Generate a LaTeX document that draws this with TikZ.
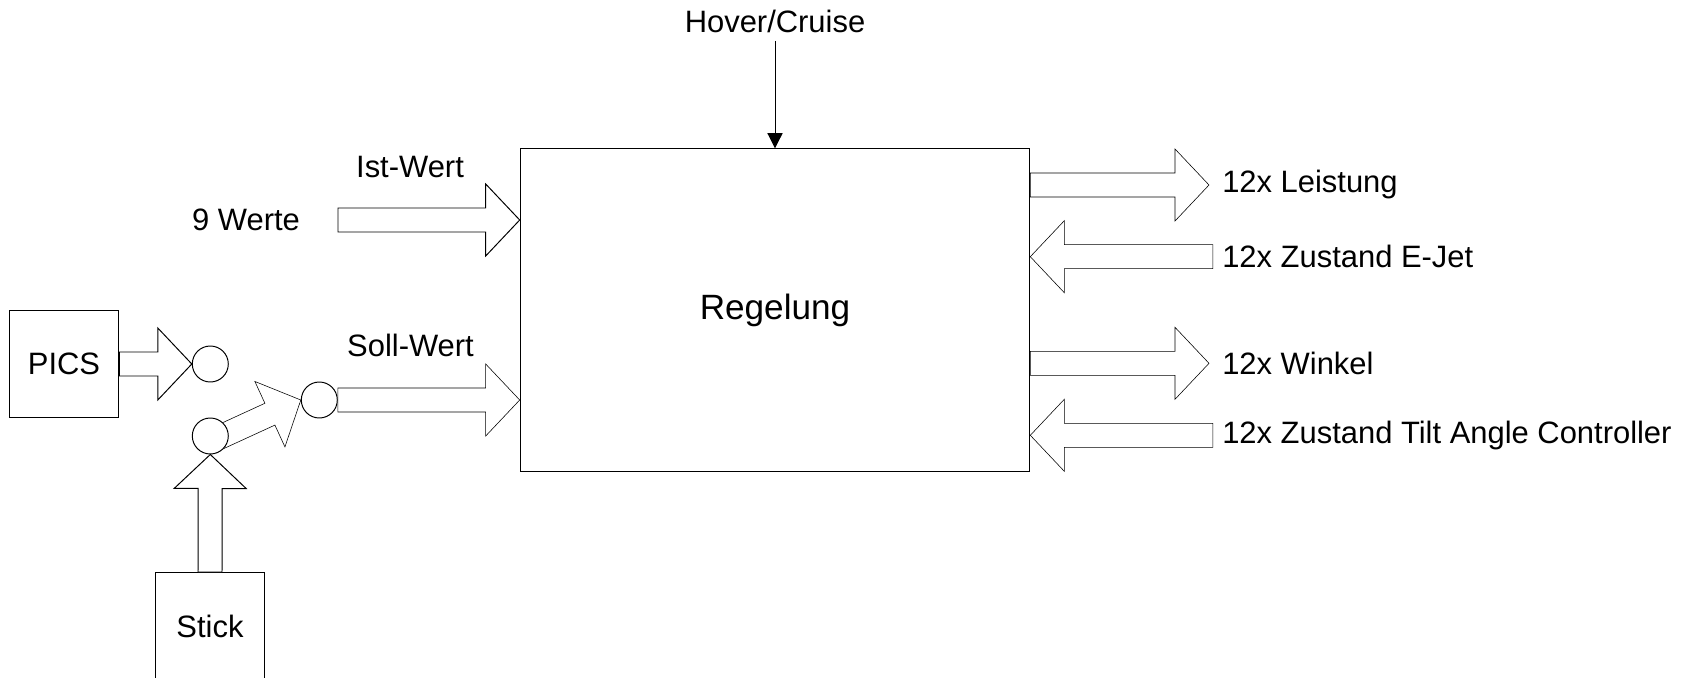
\documentclass[tikz,border=0pt]{standalone}
\usepackage{fontspec}
\setmainfont{Liberation Sans}
\usetikzlibrary{arrows.meta, positioning, calc}
\pgfdeclarelayer{bg}
\pgfsetlayers{bg,main}

% hollow block arrow from #1 (tail) to #2 (tip)
\newcommand{\blockarrow}[2]{%
  \coordinate (bh) at ($(#2)!8.5mm!(#1)$);
  \draw[fat] ($(#1)!3mm!90:(#2)$) -- ($(bh)!3mm!90:(#2)$)
    -- ($(bh)!9mm!90:(#2)$) -- (#2) -- ($(bh)!9mm!-90:(#2)$)
    -- ($(bh)!3mm!-90:(#2)$) -- ($(#1)!3mm!-90:(#2)$) -- cycle;
}

\begin{document}
\begin{tikzpicture}[x=0.25mm, y=-0.25mm, line width=0.7pt,
  txt/.style={font=\fontsize{22}{26}\selectfont, inner sep=0pt},
  box/.style={draw, fill=white, font=\fontsize{22}{26}\selectfont},
  dot/.style={draw, fill=white, circle, minimum size=9mm, inner sep=0pt},
  fat/.style={draw, fill=white, line join=miter}]
  \useasboundingbox (0,0) rectangle (1690,678);

  % controller block
  \node[box, minimum width=127.4mm, minimum height=80.6mm,
        font=\fontsize{25}{30}\selectfont] (regelung) at (775,310) {Regelung};
  \node[txt] (hover) at (775,21) {Hover/Cruise};
  \coordinate (hc) at (775,41);
  \draw[-{Triangle[width=3.8mm, length=3.8mm]}] (hc) -- (regelung.north);

  % actual values
  \coordinate (ist) at (338,220);
  \coordinate (ist-in) at (regelung.west |- ist);
  \blockarrow{ist}{ist-in}
  \node[txt] (istwert) at (410,167) {Ist-Wert};
  \node[txt] (neunwerte) at (246,220) {9 Werte};

  % set point: PICS or stick
  \node[box, minimum width=27.4mm, minimum height=26.8mm] (pics) at (64,364) {PICS};
  \node[box, minimum width=27.3mm, minimum height=26.9mm] (stick) at (210,626.5) {Stick};
  \node[dot] (c1) at (210.3,364) {};
  \node[dot] (c2) at (210.3,436) {};
  \node[dot] (c3) at (319.3,400) {};
  \blockarrow{pics.east}{c1.west}
  \blockarrow{stick.north}{c2.south}
  \coordinate (c2t) at ($(c2.center)!0.3!(c2.south)$);
  \begin{pgfonlayer}{bg}
    \blockarrow{c2t}{c3.west}
  \end{pgfonlayer}
  \coordinate (soll-in) at (regelung.west |- c3);
  \blockarrow{c3.east}{soll-in}
  \node[txt] (sollwert) at (410.5,345) {Soll-Wert};

  % outputs and feedback
  \foreach \n/\y in {leistung/185, winkel/363.3} {
    \coordinate (\n-out) at (1209,\y);
    \coordinate (\n-src) at (regelung.east |- \n-out);
    \blockarrow{\n-src}{\n-out}
  }
  \foreach \n/\y in {ejet/256.7, tilt/435.3} {
    \coordinate (\n-in) at (1212.8,\y);
    \coordinate (\n-dst) at (regelung.east |- \n-in);
    \blockarrow{\n-in}{\n-dst}
  }
  \node[txt, anchor=west] (tleistung) at (1222,185) {12x Leistung};
  \node[txt, anchor=west] (tejet) at (1222,256.7) {12x Zustand E-Jet};
  \node[txt, anchor=west] (twinkel) at (1222,363.3) {12x Winkel};
  \node[txt, anchor=west] (ttilt) at (1222,435.3) {12x Zustand Tilt Angle Controller};
\end{tikzpicture}
\end{document}
